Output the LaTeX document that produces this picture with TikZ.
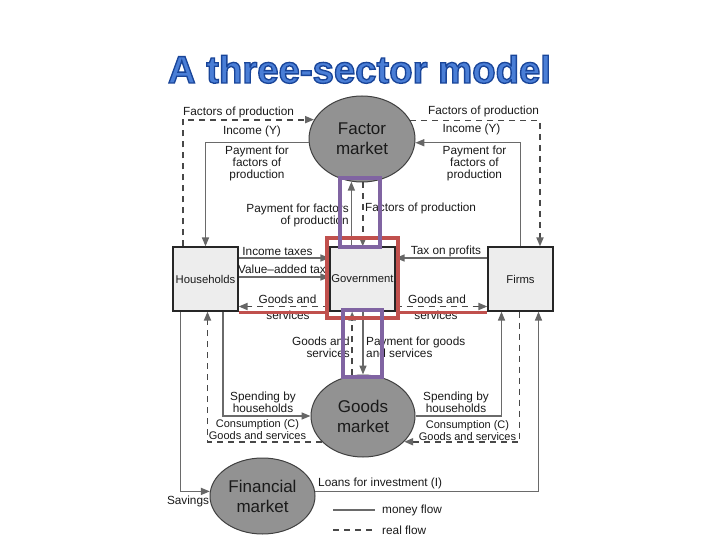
\documentclass[tikz,border=0pt]{standalone}
\usepackage{fontspec}
\setmainfont{Liberation Sans}
\newfontfamily\titlefont{Liberation Sans}[FakeBold=3.5]
\usetikzlibrary{arrows.meta,shapes.geometric}
\definecolor{linegray}{HTML}{6A6A6A}
\definecolor{dashgray}{HTML}{484848}
\definecolor{arrowgray}{HTML}{666666}
\definecolor{mkt}{HTML}{929292}
\definecolor{boxfill}{HTML}{EDEDED}
\definecolor{annred}{HTML}{C0504D}
\definecolor{annpurple}{HTML}{8064A2}
\definecolor{txt}{HTML}{1A1A1A}
\definecolor{tfill}{HTML}{4A7ED6}
\begin{document}
\begin{tikzpicture}[x=1pt,y=-1pt,
  money/.style={draw=linegray, line width=1.5pt},
  real/.style={draw=dashgray, line width=1.8pt, dash pattern=on 6pt off 5pt},
  tip/.style={-{Triangle[length=9pt,width=7pt,color=arrowgray]}},
  lbl/.style={font=\fontsize{11.8}{12}\selectfont, text=txt, inner sep=0pt, align=center},
  small/.style={font=\fontsize{11}{12}\selectfont},
  sector/.style={draw=black!85, line width=1.2pt, fill=boxfill, minimum width=65pt, minimum height=64pt, inner sep=0pt, font=\fontsize{11.3}{12}\selectfont, text=txt},
  market/.style={ellipse, draw=black!75, line width=1pt, fill=mkt, inner sep=0pt, align=center, font=\fontsize{17}{20}\selectfont, text=txt},
  titletext/.style={font=\titlefont\bfseries\fontsize{38.3}{40}\selectfont, inner sep=0pt, anchor=base, text=tfill},
  annbox/.style={draw, line width=3.5pt, inner sep=0pt, fill=none}]
\useasboundingbox[fill=white] (0,0) rectangle (720,540);

% ---------- title ----------
\node[titletext] (title) at (359.5,83) {\special{pdf:literal direct 0.10 0.27 0.60 RG}A three-sector model};

% ---------- sectors and markets ----------
\node[market, minimum width=106pt, minimum height=86pt] (fm) at (362,139) {Factor\\market};
\node[market, minimum width=104pt, minimum height=82pt] (gm) at (363,416) {Goods\\market};
\node[market, minimum width=105pt, minimum height=76pt] (fin) at (262.5,496) {Financial\\market};
\node[sector] (hh) at (205.5,279) {Households};
\node[sector] (gov) at (362.5,279) {Government};
\node[sector] (fi) at (520.5,279) {Firms};

% ---------- flows: factor market ----------
\draw[real,tip] ([xshift=-22.5pt]hh.north) |- (fm.158.2);
\draw[money,tip] (fm.184.4) -| (hh.north);
\draw[real,tip] (fm.21.8) -| ([xshift=19.5pt]fi.north);
\draw[money,tip] (fi.north) |- (fm.-4.4);
\draw[money,tip] (fm.256.7 |- gov.north) -- (fm.256.7);
\draw[real,tip] (fm.271.3) -- (fm.271.3 |- gov.north);

% ---------- flows: government ----------
\draw[money,tip] ([yshift=21pt]hh.east) -- ([yshift=21pt]hh.east -| gov.west);
\draw[money,tip] ([yshift=2pt]hh.east) -- ([yshift=2pt]hh.east -| gov.west);
\draw[real,tip] ([yshift=-27.5pt]gov.west) -- ([yshift=-27.5pt]gov.west -| hh.east);
\draw[money,tip] ([yshift=21pt]fi.west) -- ([yshift=21pt]fi.west -| gov.east);
\draw[real,tip] ([yshift=-27.5pt]gov.east) -- ([yshift=-27.5pt]gov.east -| fi.west);

% ---------- flows: goods market ----------
\draw[real,tip] (gm.105.4) -- (gm.105.4 |- gov.south);
\draw[money,tip] (gm.north |- gov.south) -- (gm.north);
\draw[money,tip] ([xshift=17.5pt]hh.south) |- (gm.west);
\draw[real,tip] (gm.212.9) -| ([xshift=2pt]hh.south);
\draw[money,tip] (gm.east) -| ([xshift=-19pt]fi.south);
\draw[real,tip] ([xshift=-1pt]fi.south) |- (gm.-32.9);

% ---------- flows: financial market ----------
\draw[money,tip] ([xshift=-25pt]hh.south) |- (fin.175.6);
\draw[money,tip] (fin.5.5) -| ([xshift=18pt]fi.south);

% ---------- labels ----------
\node[lbl] (l1) at (238.5,112) {Factors of production};
\node[lbl] (l2) at (252,131) {Income (Y)};
\node[lbl] (l3) at (257,163) {Payment for\\factors of\\production};
\node[lbl] (l4) at (483.5,111) {Factors of production};
\node[lbl] (l5) at (471.5,129) {Income (Y)};
\node[lbl] (l6) at (474.5,163) {Payment for\\factors of\\production};
\node[lbl, align=right, anchor=east] (l7) at (349,215.5) {Payment for factors\\of production};
\node[lbl, anchor=west] (l8) at (365,208) {Factors of production};
\node[lbl] (l9) at (277.5,251) {Income taxes};
\node[lbl] (l10) at (282,269) {Value\textendash added tax};
\node[lbl] (l11) at (287.5,299) {Goods and};
\node[lbl] (l12) at (288,315) {services};
\node[lbl] (l13) at (446,251) {Tax on profits};
\node[lbl] (l14) at (437,299) {Goods and};
\node[lbl] (l15) at (436,315) {services};
\node[lbl, align=right, anchor=east] (l16) at (350,347) {Goods and\\services};
\node[lbl, align=left, anchor=west] (l17) at (366,347) {Payment for goods\\and services};
\node[lbl] (l18) at (263,402.5) {Spending by\\households};
\node[lbl, small] (l19) at (257.5,430) {Consumption (C)\\Goods and services};
\node[lbl] (l20) at (456,402.5) {Spending by\\households};
\node[lbl, small] (l21) at (467.5,430.5) {Consumption (C)\\Goods and services};
\node[lbl] (l22) at (188,501) {Savings};
\node[lbl, anchor=west] (l23) at (318,483) {Loans for investment (I)};

% ---------- legend ----------
\coordinate (ma) at (333,510); \coordinate (mb) at (375,510);
\coordinate (ra) at (333,530); \coordinate (rb) at (375,530);
\draw[money] (ma) -- (mb);
\draw[real] (ra) -- (rb);
\node[lbl, anchor=west] (lg1) at (382,510) {money flow};
\node[lbl, anchor=west] (lg2) at (382,530) {real flow};

% ---------- annotations ----------
\node[annbox, draw=annred, minimum width=71pt, minimum height=80pt] (redbox) at (362.5,278) {};
\draw[annred, line width=3.5pt] ([yshift=-1pt]hh.south east) -- ([yshift=-1pt]hh.south east -| redbox.west);
\draw[annred, line width=3.5pt] ([yshift=-1pt]fi.south west -| redbox.east) -- ([yshift=-1pt]fi.south west);
\node[annbox, draw=annpurple, minimum width=40pt, minimum height=69pt] (pbox1) at (360,212.5) {};
\node[annbox, draw=annpurple, minimum width=39pt, minimum height=67pt] (pbox2) at (362.5,343.5) {};
\end{tikzpicture}
\end{document}
